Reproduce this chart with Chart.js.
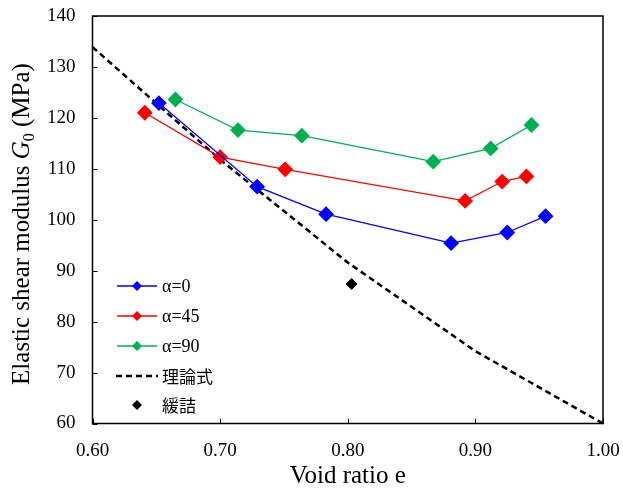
<!DOCTYPE html>
<html>
<head>
<meta charset="utf-8">
<script src="https://cdn.jsdelivr.net/npm/chart.js@4"></script>
<style>
  body { margin: 0; background: #fff; }
  #wrap { width: 623px; height: 490px; }
</style>
</head>
<body>
<div id="wrap"><canvas id="myChart" width="623" height="490"></canvas></div>
<script>
// void ratio e / G0 (MPa)
var e0 = [0.652, 0.729, 0.783, 0.881, 0.925, 0.955];
var g0 = [122.9, 106.5, 101.1, 95.4, 97.5, 100.7];

var e45 = [0.641, 0.700, 0.751, 0.892, 0.921, 0.940];
var g45 = [121.0, 112.3, 109.9, 103.7, 107.5, 108.5];

var e90 = [0.665, 0.714, 0.764, 0.867, 0.912, 0.944];
var g90 = [123.6, 117.6, 116.5, 111.4, 114.0, 118.6];

var eTheory = [0.60, 0.70, 0.80, 0.90, 1.00];
var gTheory = [133.9, 111.8, 91.6, 74.2, 60.0];

var eLoose = [0.803];
var gLoose = [87.4];

var labels = ['α=0', 'α=45', 'α=90', '理論式', '緩詰'];
var xTicks = [0.60, 0.70, 0.80, 0.90, 1.00];
var yTicks = [60, 70, 80, 90, 100, 110, 120, 130, 140];

function pts(xs, ys) {
    return xs.map(function (x, i) { return { x: x, y: ys[i] }; });
}

var SERIF = '"Liberation Serif", "Times New Roman", serif';
var CJK = '"Noto Sans CJK JP", sans-serif';

// box, inward ticks, axis titles and legend
var extras = {
    id: 'extras',
    afterDraw: function (chart) {
        var c = chart.ctx, a = chart.chartArea;
        var xs = chart.scales.x, ys = chart.scales.y;
        c.save();
        c.strokeStyle = '#000';
        c.lineWidth = 1.5;
        c.strokeRect(a.left, a.top, a.right - a.left, a.bottom - a.top);
        c.lineWidth = 1;
        c.beginPath();
        yTicks.forEach(function (v) {
            var y = Math.round(ys.getPixelForValue(v)) + 0.5;
            c.moveTo(a.left, y); c.lineTo(a.left + 5, y);
        });
        xTicks.forEach(function (v) {
            var x = Math.round(xs.getPixelForValue(v)) + 0.5;
            c.moveTo(x, a.bottom); c.lineTo(x, a.bottom - 5);
        });
        c.stroke();

        // x title
        c.fillStyle = '#000';
        c.font = '25px ' + SERIF;
        c.textAlign = 'center';
        c.textBaseline = 'alphabetic';
        c.fillText('Void ratio e', (a.left + a.right) / 2, 483);

        // y title, rotated, with italic G and subscript 0
        var parts = [
            { t: 'Elastic shear modulus ', f: '25px ' + SERIF, dy: 0 },
            { t: 'G', f: 'italic 25px ' + SERIF, dy: 0 },
            { t: '0', f: '16px ' + SERIF, dy: 5 },
            { t: ' (MPa)', f: '25px ' + SERIF, dy: 0 }
        ];
        var total = 0;
        parts.forEach(function (p) { c.font = p.f; p.w = c.measureText(p.t).width; total += p.w; });
        c.translate(29, 224);
        c.rotate(-Math.PI / 2);
        c.textAlign = 'left';
        var px = -total / 2;
        parts.forEach(function (p) {
            c.font = p.f;
            c.fillText(p.t, px, p.dy);
            px += p.w;
        });
        c.restore();

        // legend
        c.save();
        var rows = [
            { y: 286, color: '#0000ff', kind: 'line' },
            { y: 316, color: '#ff0000', kind: 'line' },
            { y: 346, color: '#00b050', kind: 'line' },
            { y: 376, color: '#000', kind: 'dash' },
            { y: 405, color: '#000', kind: 'point' }
        ];
        rows.forEach(function (r, i) {
            c.strokeStyle = r.color;
            c.fillStyle = r.color;
            if (r.kind === 'line') {
                c.lineWidth = 1.3;
                c.beginPath(); c.moveTo(117, r.y); c.lineTo(157, r.y); c.stroke();
            }
            if (r.kind === 'dash') {
                c.lineWidth = 2.5;
                c.setLineDash([6, 4]);
                c.beginPath(); c.moveTo(116, r.y); c.lineTo(158, r.y); c.stroke();
                c.setLineDash([]);
            }
            if (r.kind !== 'dash') {
                var s = 5;
                c.beginPath();
                c.moveTo(137, r.y - s); c.lineTo(137 + s, r.y); c.lineTo(137, r.y + s); c.lineTo(137 - s, r.y);
                c.closePath(); c.fill();
            }
            c.fillStyle = '#000';
            c.textAlign = 'left';
            c.textBaseline = 'middle';
            c.font = i < 3 ? '18px ' + SERIF : '17px ' + CJK;
            c.fillText(labels[i], 162, r.y + 1);
        });
        c.restore();
    }
};

var ctx = document.getElementById('myChart').getContext('2d');
var chart = new Chart(ctx, {
    type: 'scatter',
    data: {
        datasets: [
            { label: labels[0], data: pts(e0, g0), showLine: true, borderColor: '#0000ff', backgroundColor: '#0000ff',
              borderWidth: 1.3, pointStyle: 'rectRot', pointRadius: 7, pointHoverRadius: 7 },
            { label: labels[1], data: pts(e45, g45), showLine: true, borderColor: '#ff0000', backgroundColor: '#ff0000',
              borderWidth: 1.3, pointStyle: 'rectRot', pointRadius: 7, pointHoverRadius: 7 },
            { label: labels[2], data: pts(e90, g90), showLine: true, borderColor: '#00b050', backgroundColor: '#00b050',
              borderWidth: 1.3, pointStyle: 'rectRot', pointRadius: 7, pointHoverRadius: 7 },
            { label: labels[3], data: pts(eTheory, gTheory), showLine: true, borderColor: '#000', backgroundColor: '#000',
              borderWidth: 2.5, borderDash: [6, 4], pointRadius: 0 },
            { label: labels[4], data: pts(eLoose, gLoose), showLine: false, borderColor: '#000', backgroundColor: '#000',
              pointStyle: 'rectRot', pointRadius: 5.5, pointHoverRadius: 5.5 }
        ]
    },
    options: {
        responsive: false,
        animation: false,
        clip: false,
        layout: { padding: { top: 16, right: 20, left: 0, bottom: 0 } },
        plugins: { legend: { display: false }, tooltip: { enabled: false } },
        scales: {
            x: {
                type: 'linear', min: 0.6, max: 1.0,
                afterBuildTicks: function (s) { s.ticks = xTicks.map(function (v) { return { value: v }; }); },
                afterFit: function (s) { s.height = 66.5; s.paddingLeft = 0; s.paddingRight = 0; },
                grid: { display: false },
                border: { display: false },
                ticks: { color: '#000', font: { family: SERIF, size: 19 }, padding: 8,
                         maxRotation: 0,
                         callback: function (v) { return Number(v).toFixed(2); } }
            },
            y: {
                type: 'linear', min: 60, max: 140,
                afterBuildTicks: function (s) { s.ticks = yTicks.map(function (v) { return { value: v }; }); },
                afterFit: function (s) { s.width = 92.5; s.paddingTop = 0; s.paddingBottom = 0; },
                grid: { display: false },
                border: { display: false },
                ticks: { color: '#000', font: { family: SERIF, size: 19 }, padding: 9 }
            }
        }
    },
    plugins: [extras]
});
</script>
</body>
</html>
